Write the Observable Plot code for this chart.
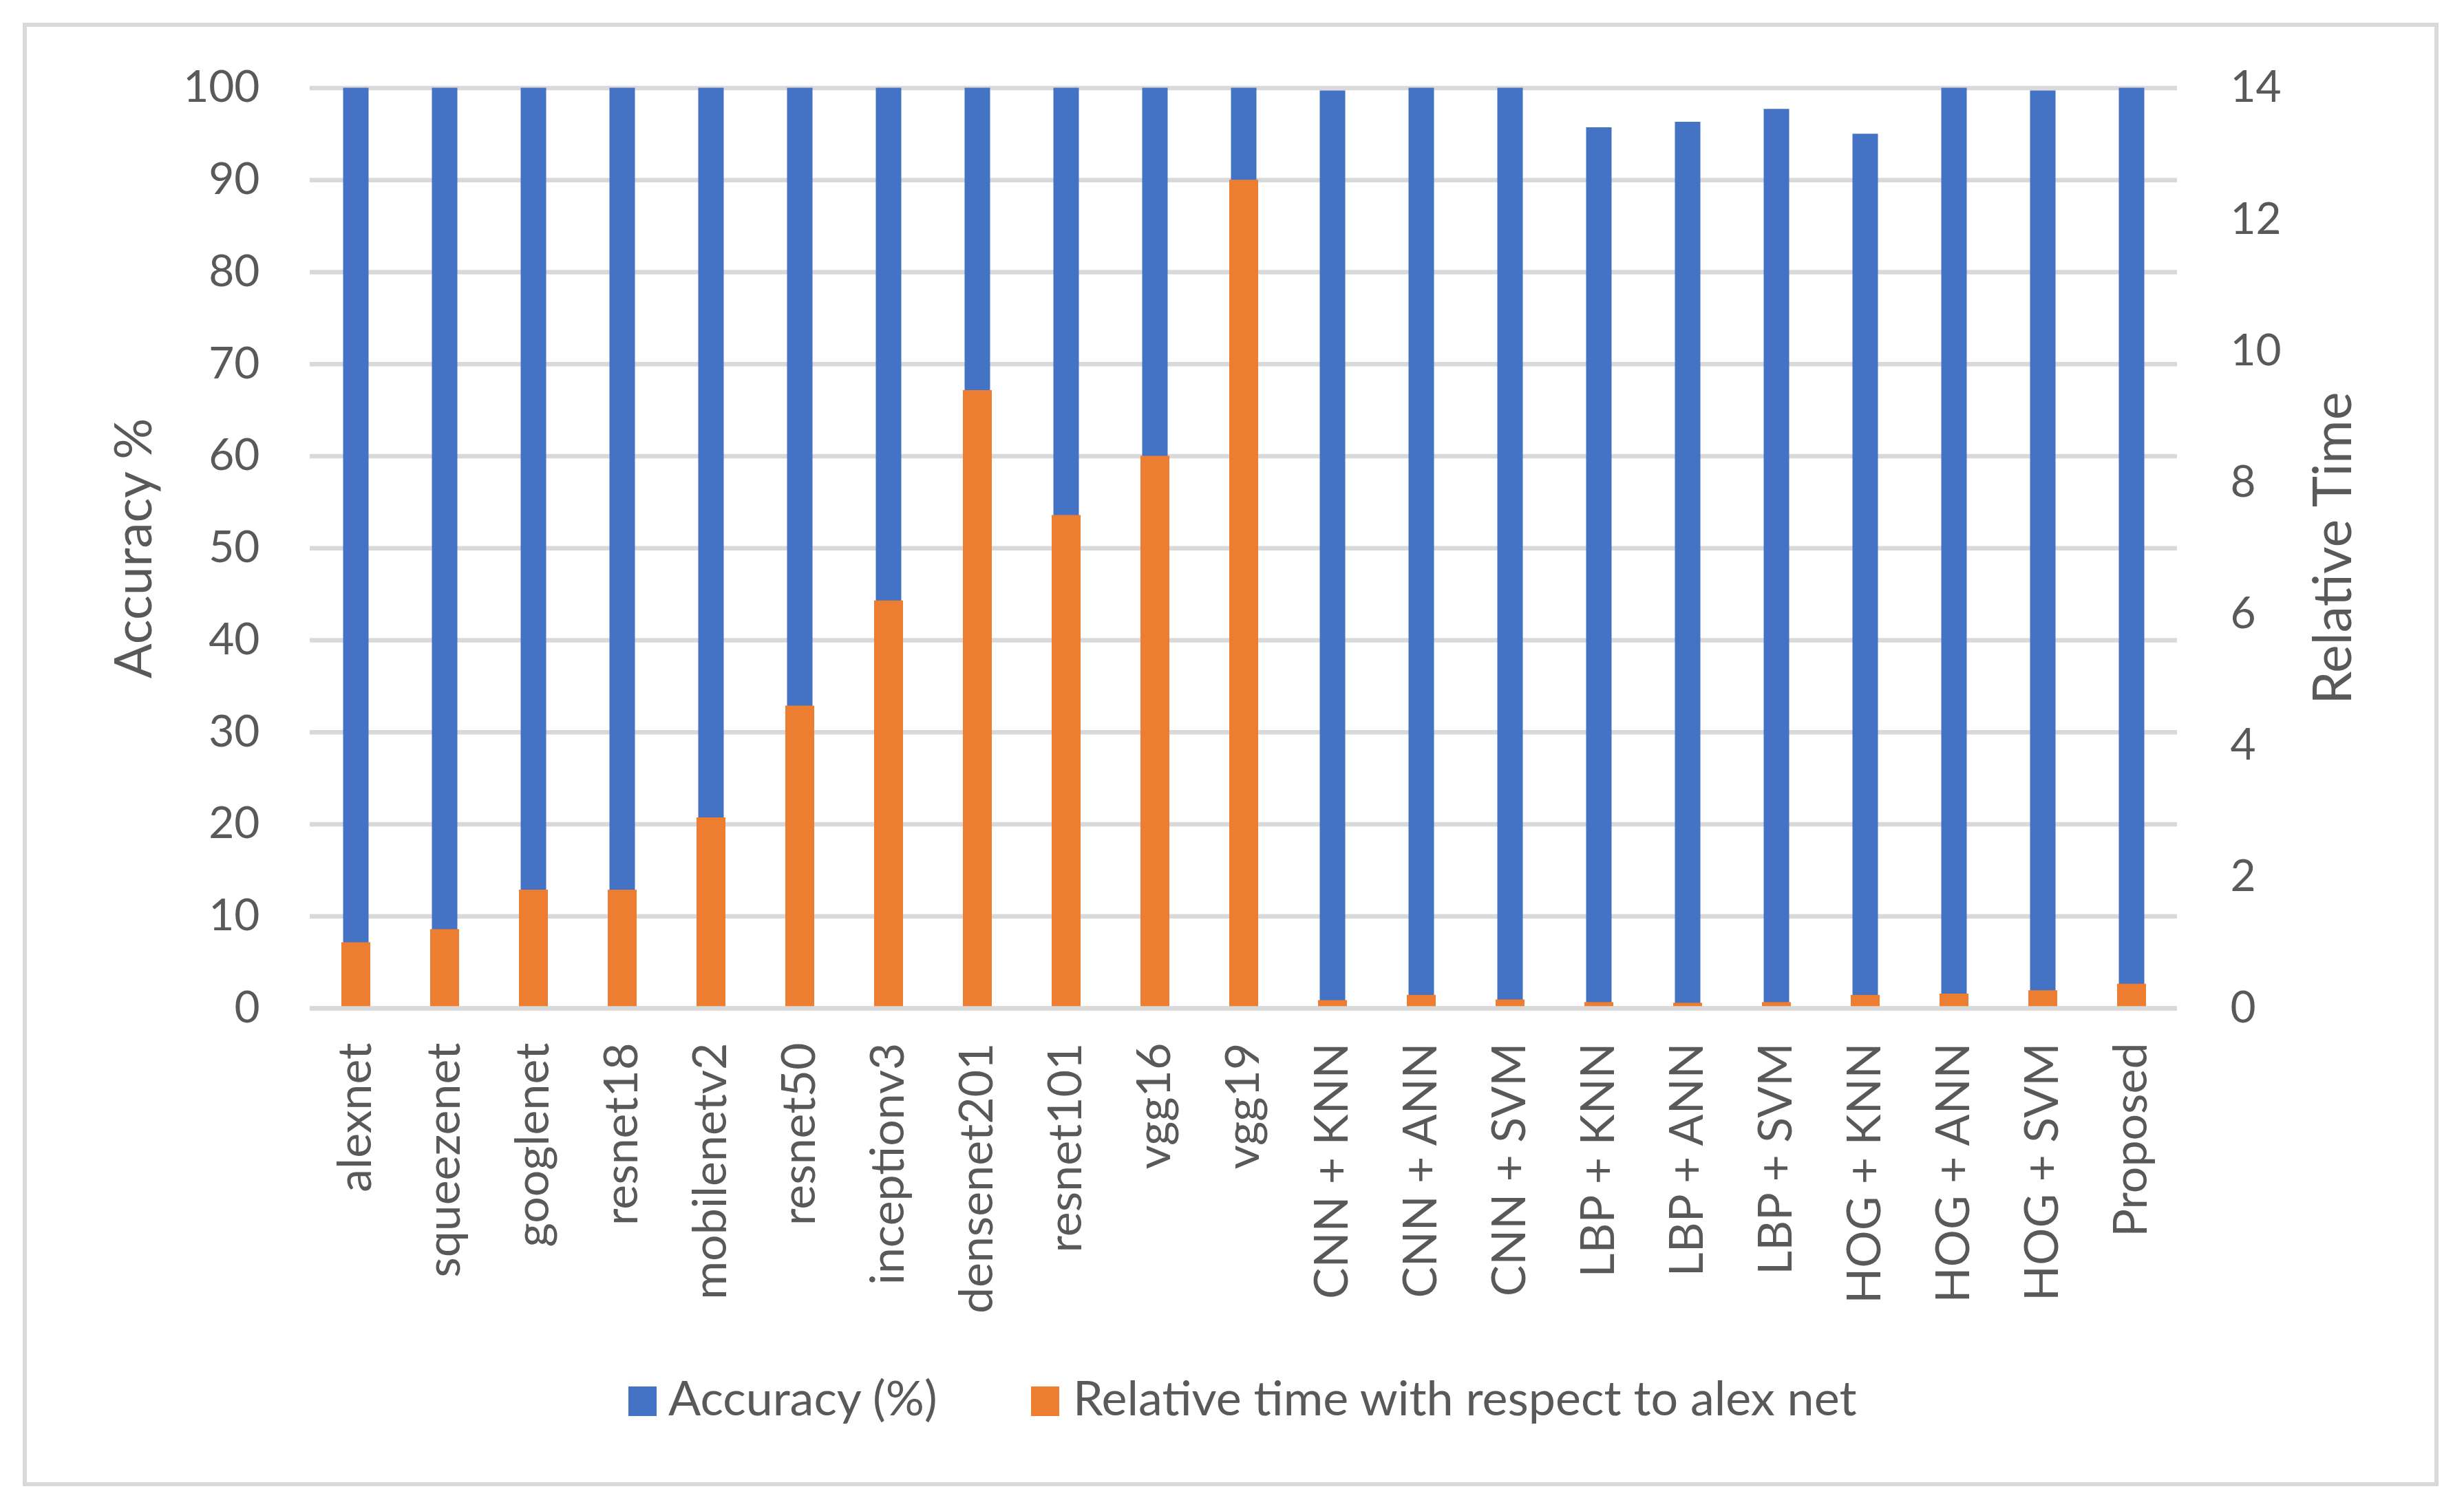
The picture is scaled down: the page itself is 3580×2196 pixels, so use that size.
<!DOCTYPE html>
<html>
<head>
<meta charset="utf-8">
<script src="https://cdn.jsdelivr.net/npm/d3@7"></script>
<script src="https://cdn.jsdelivr.net/npm/@observablehq/plot@0.6"></script>
<style>
  html, body { margin: 0; padding: 0; background: #ffffff; overflow: hidden; }
  #page { position: relative; width: 3580px; height: 2196px; background: #ffffff; font-family: "Lato", sans-serif; color: #595959; }
  #frame { position: absolute; left: 33px; top: 33px; width: 3510px; height: 2127px; box-sizing: border-box; border: 6px solid #d9d9d9; }
  #chart { position: absolute; left: 0; top: 0; }
  .sw { position: absolute; width: 41px; height: 43px; }
  .lt { position: absolute; font-size: 70px; line-height: 70px; white-space: nowrap; color: #595959; }
</style>
</head>
<body>
<div id="page">
  <div id="frame"></div>
  <div id="chart"></div>
  <div id="legend"></div>
</div>
<script>
const categories = ["alexnet","squeezenet","googlenet","resnet18","mobilenetv2","resnet50","inceptionv3","densenet201","resnet101","vgg16","vgg19","CNN + KNN","CNN + ANN","CNN + SVM","LBP + KNN","LBP + ANN","LBP + SVM","HOG + KNN","HOG + ANN","HOG + SVM","Proposed"];
const accuracy = [100,100,100,100,100,100,100,100,100,100,100,99.7,100,100,95.7,96.3,97.7,95.0,100,99.7,100];
const relTime = [1.0,1.2,1.8,1.8,2.9,4.6,6.2,9.4,7.5,8.4,12.6,0.12,0.2,0.13,0.09,0.08,0.09,0.2,0.22,0.27,0.37];
const accTicks = [0,10,20,30,40,50,60,70,80,90,100];
const timeTicks = [0,2,4,6,8,10,12,14];
const accMax = 100;
const timeMax = 14;
const seriesNames = ["Accuracy (%)", "Relative time with respect to alex net"];
const seriesColors = ["#4472C4", "#ED7D31"];
const axisTitles = ["Accuracy %", "Relative Time"];

const rows = categories.map((c, i) => ({category: c, accuracy: accuracy[i], time: relTime[i]}));
const toLeft = t => t * accMax / timeMax;

const textColor = "#595959";
const chart = Plot.plot({
  width: 3580,
  height: 1960,
  marginTop: 127.5,
  marginBottom: 495,
  marginLeft: 450,
  marginRight: 417,
  style: {fontFamily: "Lato, sans-serif", color: textColor, background: "transparent", overflow: "visible"},
  x: {domain: categories, paddingInner: 0.675, paddingOuter: 0.3375, axis: null},
  y: {domain: [0, accMax], axis: null},
  marks: [
    Plot.gridY(accTicks, {stroke: "#d9d9d9", strokeOpacity: 1, strokeWidth: 6.5}),
    Plot.barY(rows, {x: "category", y: "accuracy", fill: seriesColors[0], insetLeft: 2.5, insetRight: 2.5}),
    Plot.barY(rows, {x: "category", y: d => toLeft(d.time), fill: seriesColors[1]}),
    Plot.ruleY([0], {stroke: "#d9d9d9", strokeWidth: 6.5}),
    Plot.axisY({anchor: "left", ticks: accTicks, tickSize: 0, tickPadding: 73, fontSize: 64, fill: textColor, label: null}),
    Plot.axisY({anchor: "right", ticks: timeTicks.map(toLeft), tickFormat: d => String(Math.round(d * timeMax / accMax)), tickSize: 0, tickPadding: 77, fontSize: 64, fill: textColor, textAnchor: "start", label: null}),
    Plot.text(categories, {x: d => d, frameAnchor: "bottom", dy: 50, rotate: -90, textAnchor: "end", lineAnchor: "middle", fontSize: 68, fill: textColor}),
    Plot.text([axisTitles[0]], {frameAnchor: "left", dx: -255, rotate: -90, textAnchor: "middle", lineAnchor: "middle", fontSize: 75, fill: textColor}),
    Plot.text([axisTitles[1]], {frameAnchor: "right", dx: 228, rotate: -90, textAnchor: "middle", lineAnchor: "middle", fontSize: 77, fill: textColor})
  ]
});
document.getElementById("chart").appendChild(chart);

const legend = document.getElementById("legend");
const legendPos = [{sw: 913, tx: 971}, {sw: 1498, tx: 1559}];
seriesNames.forEach((name, i) => {
  const sw = document.createElement("div");
  sw.className = "sw";
  sw.style.left = legendPos[i].sw + "px";
  sw.style.top = "2015px";
  sw.style.background = seriesColors[i];
  legend.appendChild(sw);
  const tx = document.createElement("div");
  tx.className = "lt";
  tx.style.left = legendPos[i].tx + "px";
  tx.style.top = "1995px";
  tx.textContent = name;
  legend.appendChild(tx);
});
</script>
</body>
</html>
